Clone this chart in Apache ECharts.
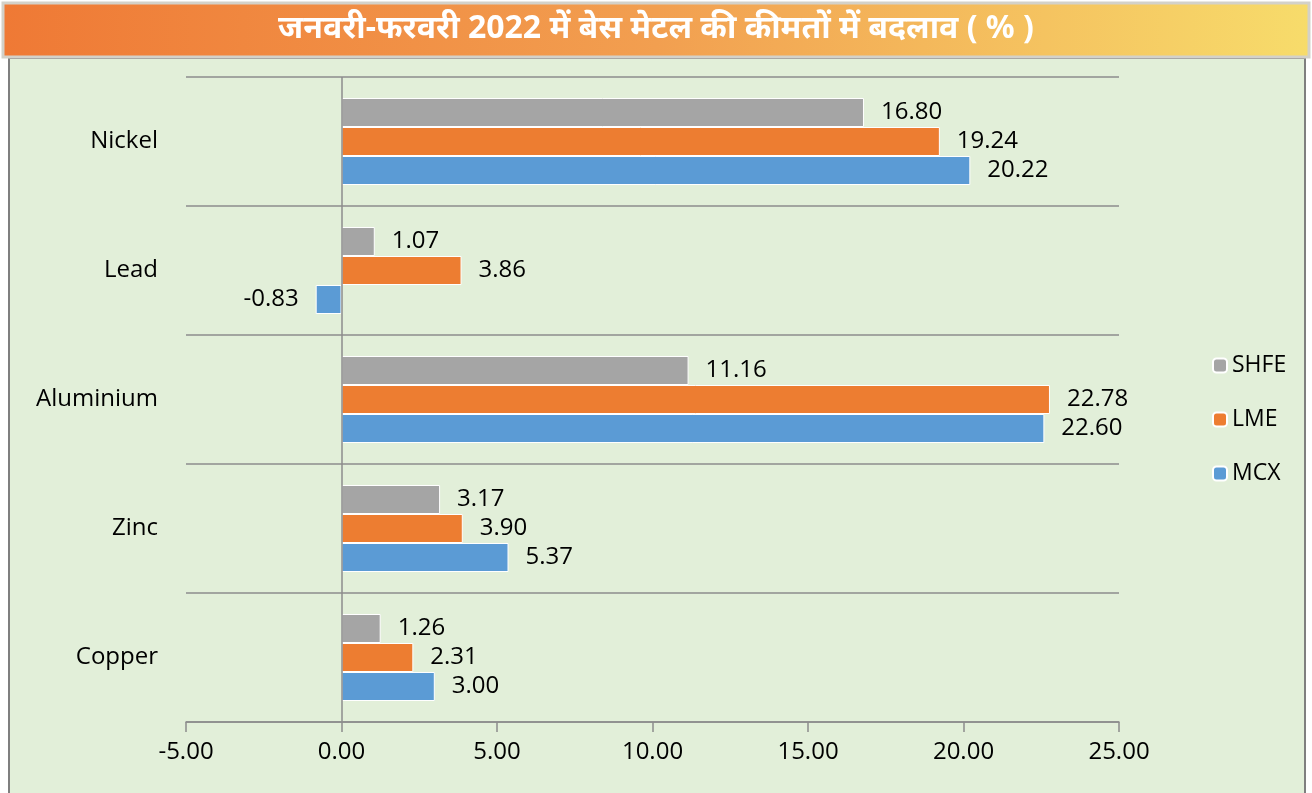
<!DOCTYPE html>
<html>
<head>
<meta charset="utf-8">
<script src="https://cdn.jsdelivr.net/npm/echarts@6/dist/echarts.min.js"></script>
<style>
  html, body { margin: 0; padding: 0; background: #fff; }
  #chart { width: 1312px; height: 793px; }
</style>
</head>
<body>
<div id="chart"></div>
<script>
// metals, bottom to top as the axis draws them
const metals = ['Copper', 'Zinc', 'Aluminium', 'Lead', 'Nickel']
const shfe = [1.26, 3.17, 11.16, 1.07, 16.80]
const lme = [2.31, 3.90, 22.78, 3.86, 19.24]
const mcx = [3.00, 5.37, 22.60, -0.83, 20.22]
const xTicks = [-5, 0, 5, 10, 15, 20, 25]
const titleText = 'जनवरी-फरवरी 2022 में बेस मेटल की कीमतों में बदलाव ( % )'

const fontFam = '"Open Sans", "Noto Sans", sans-serif'

function makeSeries(name, values, color) {
  return {
    name: name,
    type: 'bar',
    barWidth: 29,
    barGap: '0%',
    itemStyle: { color: color, borderColor: '#ffffff', borderWidth: 1 },
    label: {
      show: true,
      position: 'right',
      distance: 17,
      color: '#000',
      fontSize: 24,
      fontFamily: fontFam,
      formatter: p => p.value.toFixed(2)
    },
    // negative value gets its label on the left side
    data: values.map(v => v < 0
      ? { value: v, label: { position: 'left' } }
      : v)
  }
}

const chart = echarts.init(document.getElementById('chart'))
const series = [
  makeSeries('SHFE', shfe, '#a5a5a5'),
  makeSeries('LME', lme, '#ed7d31'),
  makeSeries('MCX', mcx, '#5b9bd5')
]
// the zero line
series[0].markLine = {
  silent: true,
  symbol: ['none', 'none'],
  label: { show: false },
  lineStyle: { color: '#8c8c8c', type: 'solid', width: 1.5 },
  data: [{ xAxis: 0 }]
}

chart.setOption({
  animation: false,
  graphic: [
    { // chart body
      type: 'rect', z: -10,
      shape: { x: 9, y: 58, width: 1296, height: 745 },
      style: { fill: '#e2efd9', stroke: '#7f7f7f', lineWidth: 2 }
    },
    { // title banner
      type: 'rect', z: -9,
      shape: { x: 3, y: 3, width: 1306, height: 54 },
      style: {
        stroke: '#d3d1c9', lineWidth: 3,
        fill: new echarts.graphic.LinearGradient(0, 0, 1, 0, [
          { offset: 0, color: '#ef7935' },
          { offset: 0.5, color: '#f29f50' },
          { offset: 1, color: '#f7dc6b' }
        ])
      }
    },
    {
      type: 'text', z: -8,
      left: 'center', top: 13,
      style: {
        text: titleText,
        fill: '#ffffff',
        font: 'bold 32px "Noto Sans", sans-serif'
      }
    }
  ],
  legend: {
    orient: 'vertical',
    left: 1207,
    top: 349,
    itemWidth: 14,
    itemHeight: 14,
    itemGap: 31,
    data: ['SHFE', 'LME', 'MCX'],
    textStyle: { fontSize: 23, color: '#000', fontFamily: fontFam }
  },
  grid: { left: 186, right: 193, top: 77, bottom: 71 },
  xAxis: {
    type: 'value',
    min: xTicks[0],
    max: xTicks[xTicks.length - 1],
    interval: 5,
    axisLine: { show: true, onZero: false, lineStyle: { color: '#8c8c8c', width: 1.5 } },
    axisTick: { show: true, length: 10, lineStyle: { color: '#8c8c8c', width: 1.5 } },
    splitLine: { show: false },
    axisLabel: {
      margin: 18,
      fontSize: 24,
      color: '#000',
      fontFamily: fontFam,
      formatter: v => v.toFixed(2)
    }
  },
  yAxis: {
    type: 'category',
    data: metals,
    axisLine: { show: false, onZero: false },
    axisTick: { show: false },
    splitLine: { show: true, lineStyle: { color: '#8c8c8c', width: 1.5 } },
    axisLabel: { margin: 28, fontSize: 24, color: '#000', fontFamily: fontFam }
  },
  series: series
})
</script>
</body>
</html>
